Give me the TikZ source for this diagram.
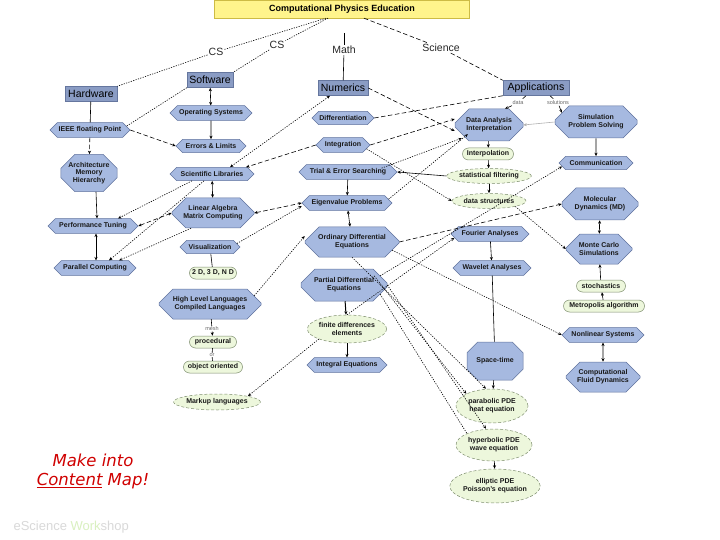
\documentclass[tikz,border=0pt]{standalone}
\usepackage{fontspec}
\setmainfont{Liberation Sans}
\newfontfamily\dejavu{DejaVu Sans}
\usetikzlibrary{shapes.misc,shapes.geometric,arrows.meta,calc}
\definecolor{blueF}{HTML}{A6B9E0}
\definecolor{blueD}{HTML}{60739E}
\definecolor{rectF}{HTML}{8A9CC4}
\definecolor{rectD}{HTML}{65769E}
\definecolor{greenF}{HTML}{EDF7DC}
\definecolor{greenD}{HTML}{7E8E6E}
\definecolor{titleF}{HTML}{FFF48C}
\definecolor{titleD}{HTML}{CDBB45}
\definecolor{redT}{HTML}{D00000}
\begin{document}
\begin{tikzpicture}[x=1pt,y=-1pt,
  base/.style={font=\fontsize{7}{7.8}\selectfont\bfseries, align=center, inner sep=0.5pt, text=black!90},
  rectn/.style={draw=rectD, fill=rectF, font=\fontsize{10.5}{12}\selectfont, minimum height=15pt, inner sep=1pt, line width=0.5pt},
  hexn/.style={base, chamfered rectangle, chamfered rectangle xsep=4pt, chamfered rectangle ysep=3.5pt, draw=blueD, fill=blueF, minimum height=13pt, line width=0.5pt},
  octn/.style={base, chamfered rectangle, chamfered rectangle xsep=7pt, chamfered rectangle ysep=7pt, draw=blueD, fill=blueF, line width=0.5pt},
  greenr/.style={base, rounded rectangle, draw=greenD, fill=greenF, minimum height=12pt, line width=0.5pt},
  greene/.style={base, ellipse, draw=greenD, fill=greenF, densely dashed, line width=0.5pt, inner sep=0pt},
  lab/.style={font=\fontsize{10.5}{12}\selectfont, text=black!85, inner sep=1pt},
  smalll/.style={font=\fontsize{5.5}{6}\selectfont, text=black!60, inner sep=0.5pt},
  con/.style={line width=0.6pt, black},
  dotl/.style={con, dash pattern=on 1.2pt off 1.3pt},
  dashl/.style={con, dash pattern=on 4.5pt off 2.5pt},
  arr/.style={-{Stealth[length=3.5pt,width=3pt]}},
  arrb/.style={{Stealth[length=3.5pt,width=3pt]}-{Stealth[length=3.5pt,width=3pt]}}
]
\useasboundingbox (0,0) rectangle (720,540);
\fill[white] (0,0) rectangle (720,540);

% title and top labels
\node[draw=titleD, fill=titleF, minimum width=255pt, minimum height=18pt, inner sep=0pt,
      font=\fontsize{9}{10}\selectfont\bfseries] (title) at (342,9) {Computational Physics Education};
\node[lab] (cs1) at (216,52) {CS};
\node[lab] (cs2) at (277,45) {CS};
\node[lab] (math) at (344,50) {Math};
\node[lab] (sci) at (441,48) {Science};
\coordinate (mtop) at (344,33);

% main rectangles
\node[rectn, minimum width=52pt] (hw) at (91,94) {Hardware};
\node[rectn, minimum width=46pt] (sw) at (210,80) {Software};
\node[rectn, minimum width=50pt] (num) at (343,88) {Numerics};
\node[rectn, minimum width=66pt] (app) at (536,88) {Applications};
\node[smalll] (ldata) at (518,103) {data};
\node[smalll] (lsol) at (558,103) {solutions};

% left column
\node[hexn, minimum width=80pt] (ieee) at (90,130) {IEEE floating Point};
\node[octn, minimum width=56pt, minimum height=34pt] (arch) at (89,173) {Architecture\\Memory\\Hierarchy};
\node[hexn, minimum width=90pt] (perf) at (93,226) {Performance Tuning};
\node[hexn, minimum width=82pt] (par) at (95,268) {Parallel Computing};

% second column
\node[hexn, minimum width=82pt] (os) at (211,113) {Operating Systems};
\node[hexn, minimum width=70pt] (err) at (211,146) {Errors \& Limits};
\node[hexn, minimum width=84pt] (scilib) at (212,174) {Scientific Libraries};
\node[octn, minimum width=82pt, minimum height=30pt] (linalg) at (213,213) {Linear Algebra\\Matrix Computing};
\node[hexn, minimum width=60pt] (vis) at (210,247) {Visualization};
\node[greenr, minimum width=48pt] (dim) at (213,273) {2 D, 3 D, N D};
\node[octn, minimum width=102pt, minimum height=30pt] (hll) at (210,304) {High Level Languages\\Compiled Languages};
\node[smalll] (lmesh) at (212,329) {mesh};
\node[greenr, minimum width=48pt] (proc) at (213,342) {procedural};
\node[smalll] (lor) at (212,355) {or};
\node[greenr, minimum width=60pt] (oo) at (213,367) {object oriented};
\node[greene, minimum width=78pt, minimum height=16pt] (markup) at (217,402) {Markup languages};

% third column
\node[hexn, minimum width=62pt] (diff) at (343,118) {Differentiation};
\node[hexn, minimum width=54pt] (integ) at (343,145) {Integration};
\node[hexn, minimum width=98pt] (trial) at (348,172) {Trial \& Error Searching};
\node[hexn, minimum width=90pt] (eig) at (347,203) {Eigenvalue Problems};
\node[octn, minimum width=94pt, minimum height=30pt] (ode) at (352,242) {Ordinary Differential\\Equations};
\node[octn, minimum width=86pt, minimum height=32pt] (pde) at (344,285) {Partial Differential\\Equations};
\node[greene, minimum width=76pt, minimum height=28pt] (fd) at (347,329) {finite differences\\elements};
\node[hexn, minimum width=80pt] (inteq) at (347,365) {Integral Equations};

% fourth column
\node[octn, minimum width=68pt, minimum height=32pt] (data) at (489,125) {Data Analysis\\Interpretation};
\node[greenr, minimum width=52pt] (interp) at (488,154) {Interpolation};
\node[greene, minimum width=74pt, minimum height=15pt] (stat) at (489,176) {statistical filtering};
\node[greene, minimum width=74pt, minimum height=15pt] (ds) at (489,201) {data structures};
\node[hexn, minimum width=78pt] (four) at (490,234) {Fourier Analyses};
\node[hexn, minimum width=78pt] (wave) at (492,268) {Wavelet Analyses};
\node[octn, minimum width=56pt, minimum height=38pt] (st) at (495,361) {Space-time};
\node[greene, minimum width=72pt, minimum height=34pt] (para) at (492,406) {parabolic PDE\\heat equation};
\node[greene, minimum width=76pt, minimum height=32pt] (hyp) at (494,445) {hyperbolic PDE\\wave equation};
\node[greene, minimum width=90pt, minimum height=34pt] (ell) at (495,486) {elliptic PDE\\Poisson's equation};

% fifth column
\node[octn, minimum width=82pt, minimum height=32pt] (sim) at (596,122) {Simulation\\Problem Solving};
\node[hexn, minimum width=74pt] (comm) at (596,163) {Communication};
\node[octn, minimum width=76pt, minimum height=32pt] (md) at (600,204) {Molecular\\Dynamics (MD)};
\node[octn, minimum width=66pt, minimum height=30pt] (mc) at (599,249) {Monte Carlo\\Simulations};
\node[greenr, minimum width=50pt] (stoch) at (601,286) {stochastics};
\node[greenr, minimum width=82pt] (metro) at (604,306) {Metropolis algorithm};
\node[hexn, minimum width=82pt] (nonlin) at (603,335) {Nonlinear Systems};
\node[octn, minimum width=74pt, minimum height=30pt] (cfd) at (603,377) {Computational\\Fluid Dynamics};

% notes
\node[font=\dejavu\itshape\fontsize{16.5}{18}\selectfont, text=redT] (mk1) at (93,460) {Make into};
\node[font=\dejavu\itshape\fontsize{16.5}{18}\selectfont, text=redT] (mk2) at (93,481) {\underline{Content} Map!};
\node[font=\fontsize{13}{15}\selectfont, text=black!15, anchor=west] (ws) at (10,527) {eScience \textcolor{yellow!40!green!25}{Work}shop};

% connectors: top
\draw[dotl] ([xshift=-16pt]title.south) -- (cs1) -- (hw.north east);
\draw[dotl] ([xshift=-14pt]title.south) -- (cs2) -- (sw.north east);
\draw[con] (mtop) -- (math);
\draw[con] (math) -- (num);
\draw[dashl] ([xshift=22pt]title.south) -- (sci);
\draw[dashl] (sci) -- (app.north west);

% left part
\draw[con] (hw) -- (ieee);
\draw[dotl] (sw.south west) -- (ieee.north east);
\draw[con, arrb] (sw) -- (os);
\draw[con, arr] (os) -- (err);
\draw[dashl, arr] (ieee.east) -- (err.west);
\draw[dashl, arr] (ieee) -- (arch);
\draw[con, arr] ([xshift=7pt]arch.south) -- ([xshift=4pt]perf.north);
\draw[con, arrb] ([xshift=3pt]perf.south) -- ([xshift=1pt]par.north);
\draw[dashl, arrb] (perf.east) -- (linalg.west);
\draw[dotl, arr] ([xshift=-20pt]scilib.south) -- ([xshift=25pt]perf.north);
\draw[dotl, arr] ([xshift=-8pt]scilib.south) -- ([xshift=14pt]par.north);
\draw[dotl, arr] ([xshift=-22pt]linalg.south) -- ([xshift=24pt]par.north);
\draw[con, arrb] (scilib) -- (linalg);
\draw[dotl, arrb] ([xshift=-13pt]num.south) -- ([xshift=18pt]scilib.north);
\draw[dashl, arr] (integ.west) -- ([xshift=34pt]scilib.north);
\draw[dashl, arrb] (linalg.east) -- (eig.west);
\draw[dotl, arr] (vis.north east) -- ([yshift=-3pt]eig.west);
\draw[con] (vis) -- (dim);
\draw[dotl, arr] (hll.north east) -- ([yshift=6pt]ode.west);
\draw[con, arr] (hll) -- (lmesh) -- (proc);
\draw[con] (proc) -- (lor) -- (oo);

% numerics part
\draw[dashl, arr] (num.east) -- ([yshift=-6pt]data.west);
\draw[dashl, arr] (integ.east) -- ([yshift=6pt]data.west);
\draw[dashl] (app.south west) -- (diff.east);
\draw[dashl] ([xshift=-10pt]app.south) -- (ldata);
\draw[dashl, arr] (ldata) -- ([xshift=16pt]data.north);
\draw[dashl] ([xshift=14pt]app.south) -- (lsol);
\draw[dashl, arr] (lsol) -- (sim.north west);
\draw[con, black!30, arr] (sim.west) -- (data.east);
\draw[con, arr] (data) -- (interp);
\draw[con, arr] (interp) -- (stat);
\draw[con, arr] (stat) -- (ds);
\draw[con, arr] (stat.west) -- (trial.east);
\draw[con, arr] (trial) -- (eig);
\draw[con, arrb] (eig) -- (ode);
\draw[dotl, arr] ([xshift=-12pt]trial.north east) -- ([yshift=-4pt]data.south west);
\draw[dotl, arr] (eig.north east) -- ([xshift=6pt]data.south west);
\draw[dotl, arr] (integ.south east) -- (ds.west);
\draw[dashl, arr] (ode.east) -- (md.west);
\draw[dotl, arr] (ds.south east) -- (mc.west);
\draw[con, arrb] (md) -- (mc);
\draw[con, arr] (stoch) -- (mc);
\draw[con, arr] (metro) -- (stoch);
\draw[dotl, arr] (ode.south east) -- (nonlin.west);
\draw[con, arrb] (nonlin) -- (cfd);
\draw[con, arr] (sim) -- (comm);
\draw[dotl, arr] (pde.north east) -- (comm.south west);
\draw[dotl, arr] (fd.north) -- (four.south west);
\draw[con, arr] (four) -- (wave);
\draw[con] (wave) -- (st);
\draw[con, arr] (st) -- (para);
\draw[dotl, arr] ([xshift=-6pt]pde.north east) -- (para.north west);
\draw[dotl, arr] (pde.east) -- ([xshift=-8pt]hyp.north);
\draw[dotl] (pde.south east) -- (hyp.north west);
\draw[dotl, arr] (ode.south) -- ([xshift=-6pt]para.north);
\draw[con, arr] (hyp) -- (ell);
\draw[con, arr, line width=1pt] (pde) -- (fd);
\draw[con, arr] (fd) -- (inteq);
\draw[dotl, arr] (fd.south west) -- (markup.north east);
\end{tikzpicture}
\end{document}
